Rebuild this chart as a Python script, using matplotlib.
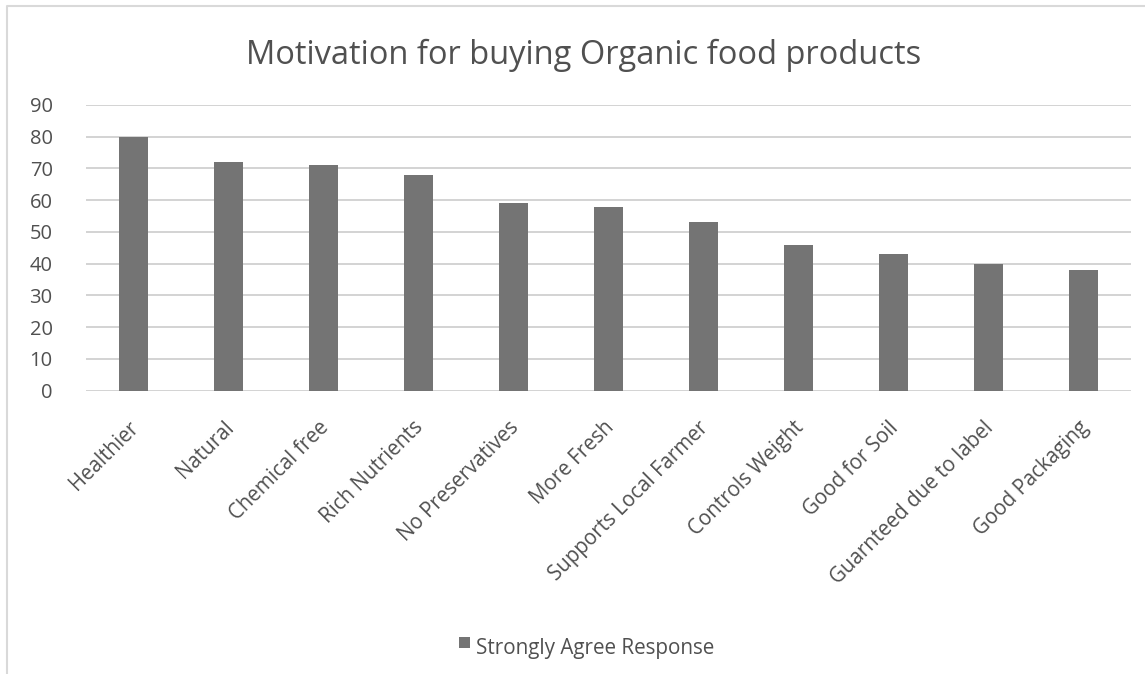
import matplotlib
matplotlib.use("Agg")
import matplotlib.pyplot as plt
from matplotlib.lines import Line2D
from matplotlib.patches import Rectangle
from matplotlib.transforms import blended_transform_factory, offset_copy

categories = ["Healthier", "Natural", "Chemical free", "Rich Nutrients",
              "No Preservatives", "More Fresh", "Supports Local Farmer",
              "Controls Weight", "Good for Soil", "Guarnteed due to label",
              "Good Packaging"]
values = [80, 72, 71, 68, 59, 58, 53, 46, 43, 40, 38]
yticks = [0, 10, 20, 30, 40, 50, 60, 70, 80, 90]
series_name = "Strongly Agree Response"
title = "Motivation for buying Organic food products"

W, H = 1145, 674
FONT = "Open Sans"
TXT = "#505050"
BAR = "#747474"
GRID = "#d0d0d0"

plt.rcParams["font.family"] = [FONT, "DejaVu Sans"]

fig = plt.figure(figsize=(W / 100, H / 100), dpi=100)

def fx(px):
    return px / W

def fy(py):
    return 1 - py / H

# plot area
ax = fig.add_axes([fx(86), fy(390.7), fx(1131) - fx(86), fy(105) - fy(390.7)])
ax.bar(range(len(categories)), values, width=0.31, color=BAR, zorder=3)
ax.set_xlim(-0.5, len(categories) - 0.5)
ax.set_ylim(0, 90)
ax.set_yticks(yticks)
ax.set_yticklabels([str(t) for t in yticks], fontsize=14.5, color=TXT)
ax.tick_params(axis="y", length=0, pad=24)
ax.set_xticks([])
for s in ax.spines.values():
    s.set_visible(False)
ax.grid(axis="y", color=GRID, linewidth=1.3, zorder=0)
ax.set_axisbelow(True)

# category labels, rotated
trans = blended_transform_factory(ax.transData, ax.transAxes)
for i, name in enumerate(categories):
    ax.text(i, 0, name, transform=offset_copy(trans, fig=fig, x=2, y=-34, units="dots"),
            rotation=45, rotation_mode="anchor", ha="right", va="center",
            fontsize=14.8, color=TXT)

# title
fig.text(fx(584), fy(64), title, ha="center", va="baseline", fontsize=23.5, color=TXT)

# legend
fig.patches.append(Rectangle((fx(459), fy(648)), fx(11), fy(637) - fy(648),
                             transform=fig.transFigure, facecolor=BAR, edgecolor="none"))
fig.text(fx(476), fy(654), series_name, ha="left", va="baseline", fontsize=14.9, color=TXT)

# chart frame
fig.lines.append(Line2D([fx(7), fx(7), 1], [0, fy(6), fy(6)], transform=fig.transFigure,
                        color="#d9d9d9", linewidth=1.5))

fig.savefig("out.png", dpi=100)
